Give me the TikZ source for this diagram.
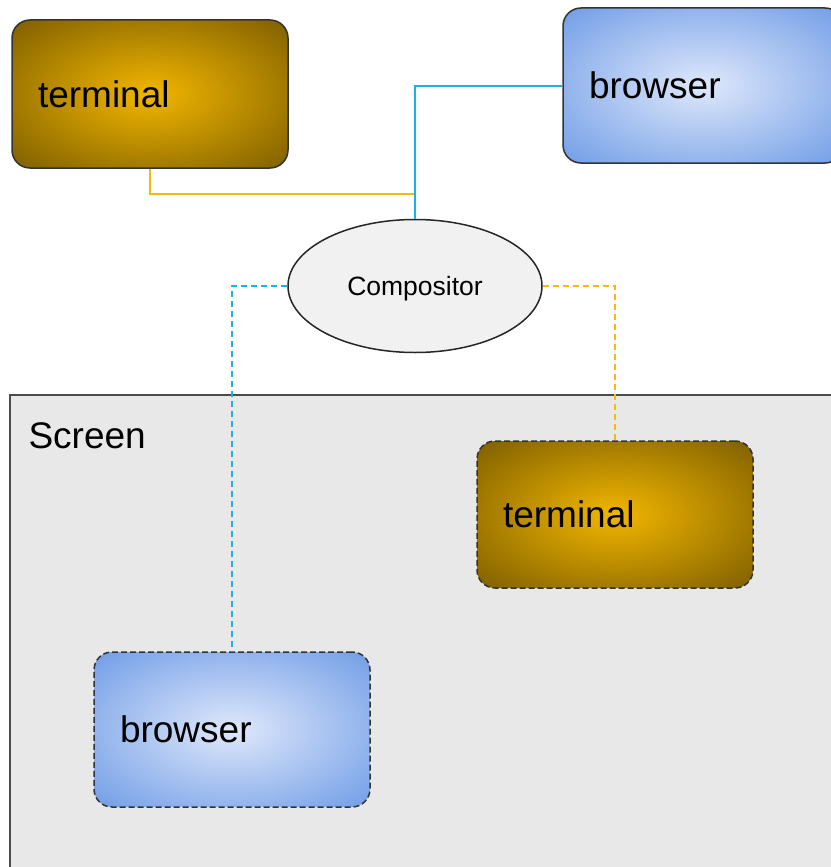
\documentclass[tikz,border=0pt]{standalone}
\usepackage{fontspec}
\setmainfont{Liberation Sans}
\usetikzlibrary{shapes.geometric}
\definecolor{termin}{HTML}{F2B600}
\definecolor{termout}{HTML}{7D5E00}
\definecolor{browin}{HTML}{DFE8FB}
\definecolor{browout}{HTML}{6F9CE6}
\definecolor{linkblue}{HTML}{1AB0E8}
\definecolor{linkyellow}{HTML}{F5B90F}
\definecolor{screengray}{HTML}{E8E8E8}
\definecolor{compfill}{HTML}{F0F1F0}
\pgfdeclareradialshading{termglow}{\pgfpoint{0bp}{0bp}}{color(0bp)=(termin); color(36bp)=(termout); color(50bp)=(termout)}
\pgfdeclareradialshading{browglow}{\pgfpoint{0bp}{0bp}}{color(0bp)=(browin); color(36bp)=(browout); color(50bp)=(browout)}

\begin{document}
\begin{tikzpicture}[x=1pt,y=-1pt,
    win/.style={draw=black!80, line width=1.5pt, rounded corners=18pt,
      minimum width=276pt, minimum height=148pt, inner xsep=26pt,
      text width=224pt, align=left, font=\fontsize{37}{40}\selectfont},
    term/.style={win, shading=termglow},
    brow/.style={win, shading=browglow},
    onscreen/.style={dash pattern=on 6pt off 3pt},
    link/.style={line width=2pt},
    dashlink/.style={line width=1.8pt, dash pattern=on 6pt off 4pt}]
    \useasboundingbox (0,0) rectangle (830,867);
    \draw[draw=black!70, fill=screengray, line width=1.5pt] (10,395) rectangle (845,880);
    \node[anchor=base west, font=\fontsize{37}{40}\selectfont] (scrlabel) at (25,448) {Screen};

    \node[term] (term1) at (150,94) {terminal};
    \node[brow, text width=228pt, minimum width=280pt, minimum height=155pt] (brow1) at (703,85.5) {browser};
    \node[ellipse, draw=black!85, line width=1.5pt, fill=compfill, minimum width=254pt,
      minimum height=133pt, text depth=0pt, font=\fontsize{26.5}{30}\selectfont] (comp) at (415,286) {Compositor};
    \node[term, onscreen, minimum height=147pt] (term2) at (615,514.5) {terminal};
    \node[brow, onscreen, minimum width=275pt, minimum height=155pt] (brow2) at (232,729.5) {browser};

    \draw[link, linkyellow] (term1.south) -- ++(0,25) -| (comp.north);
    \draw[link, linkblue] (brow1.west) -| (comp.north);
    \draw[dashlink, linkblue] (comp.west) -| (brow2.north);
    \draw[dashlink, linkyellow] (comp.east) -| (term2.north);
\end{tikzpicture}
\end{document}
